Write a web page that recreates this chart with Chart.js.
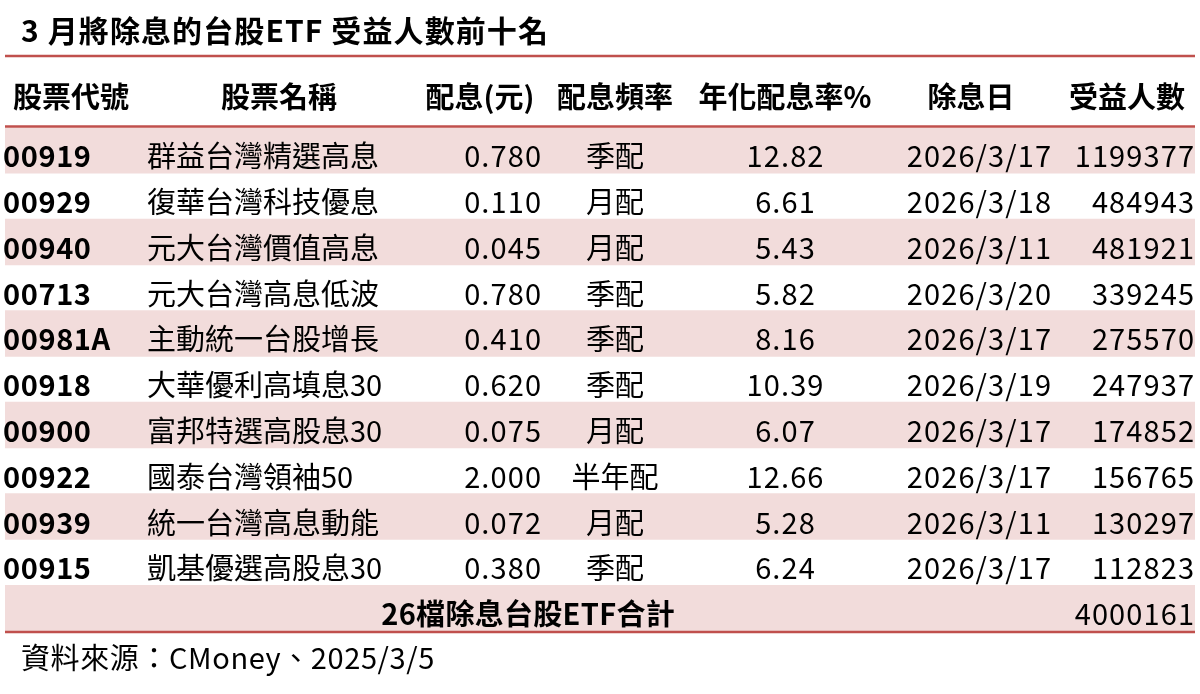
<!DOCTYPE html>
<html>
<head>
<meta charset="utf-8">
<script src="https://cdn.jsdelivr.net/npm/chart.js@4.4.1/dist/chart.umd.min.js"></script>
<style>
  html, body { margin: 0; padding: 0; background: #fff; }
  #wrap { width: 1200px; height: 694px; }
</style>
</head>
<body>
<div id="wrap"><canvas id="tbl"></canvas></div>
<script>
const title = '3 月將除息的台股ETF 受益人數前十名';
const source = '資料來源：CMoney、2025/3/5';
const headers = ['股票代號', '股票名稱', '配息(元)', '配息頻率', '年化配息率%', '除息日', '受益人數'];

const codes = ['00919', '00929', '00940', '00713', '00981A', '00918', '00900', '00922', '00939', '00915'];
const names = ['群益台灣精選高息', '復華台灣科技優息', '元大台灣價值高息', '元大台灣高息低波', '主動統一台股增長',
  '大華優利高填息30', '富邦特選高股息30', '國泰台灣領袖50', '統一台灣高息動能', '凱基優選高股息30'];
const dividends = [0.780, 0.110, 0.045, 0.780, 0.410, 0.620, 0.075, 2.000, 0.072, 0.380];
const freqs = ['季配', '月配', '月配', '季配', '季配', '季配', '月配', '半年配', '月配', '季配'];
const yields = [12.82, 6.61, 5.43, 5.82, 8.16, 10.39, 6.07, 12.66, 5.28, 6.24];
const exDates = ['2026/3/17', '2026/3/18', '2026/3/11', '2026/3/20', '2026/3/17', '2026/3/19', '2026/3/17', '2026/3/17', '2026/3/11', '2026/3/17'];
const holders = [1199377, 484943, 481921, 339245, 275570, 247937, 174852, 156765, 130297, 112823];
const totalLabel = '26檔除息台股ETF合計';
const totalHolders = 4000161;

const RED = '#c0504d';
const PINK = '#f2dcdb';
const FONT = "'Noto Sans CJK TC', 'Noto Sans', sans-serif";

// rows: 10 ETFs + total row; every other row is shaded
const rowLabels = codes.concat(['total']);
const stripe = rowLabels.map((r, i) => (i % 2 === 0 ? 1190 : null));

const tablePlugin = {
  id: 'tableText',
  afterDatasetsDraw(chart) {
    const ctx = chart.ctx;
    const x = chart.scales.x;
    const y = chart.scales.y;
    const area = chart.chartArea;
    const px = v => x.getPixelForValue(v);

    function text(str, xp, yp, align, weight, size, spacing) {
      ctx.font = (weight || 'normal') + ' ' + (size || 29) + 'px ' + FONT;
      ctx.letterSpacing = (spacing || 0) + 'px';
      ctx.textAlign = align;
      ctx.textBaseline = 'alphabetic';
      ctx.fillStyle = '#000';
      // letterSpacing adds a trailing gap; shift right-aligned text back
      const shift = align === 'right' ? (spacing || 0) : align === 'center' ? (spacing || 0) / 2 : 0;
      ctx.fillText(str, xp + shift, yp);
    }

    ctx.save();
    // red rules
    ctx.strokeStyle = RED;
    ctx.lineWidth = 2.5;
    [56, area.top - 1, area.bottom + 1].forEach(yy => {
      ctx.beginPath();
      ctx.moveTo(area.left, yy);
      ctx.lineTo(area.right, yy);
      ctx.stroke();
    });

    // title & source
    text(title, 21, 42, 'left', 'bold', 30, 1.1);
    text(source, 21, 669, 'left', 'normal', 29, 0.6);

    // header
    const headX = [71, 279, 480, 615, 785, 971, 1127];
    headers.forEach((h, i) => text(h, px(headX[i] - 5), 108, 'center', 'bold', 29, 0));

    // body rows
    const NUM = 1.1;
    codes.forEach((c, i) => {
      const yb = y.getPixelForValue(i) + 17;
      text(c, px(-2), yb, 'left', 'bold', 29, 0.6);
      text(names[i], px(142), yb, 'left', 'normal', 29, 0);
      text(dividends[i].toFixed(3), px(536), yb, 'right', 'normal', 29, NUM);
      text(freqs[i], px(610), yb, 'center', 'normal', 29, 0);
      text(yields[i].toFixed(2), px(780), yb, 'center', 'normal', 29, NUM);
      text(exDates[i], px(1046), yb, 'right', 'normal', 29, NUM);
      text(String(holders[i]), px(1189), yb, 'right', 'normal', 29, NUM);
    });

    const yt = y.getPixelForValue(codes.length) + 17;
    text(totalLabel, px(523), yt, 'center', 'bold', 29, 0.3);
    text(String(totalHolders), px(1189), yt, 'right', 'normal', 29, NUM);
    ctx.restore();
  }
};

new Chart(document.getElementById('tbl'), {
  type: 'bar',
  data: {
    labels: rowLabels,
    datasets: [{
      data: stripe,
      backgroundColor: PINK,
      borderWidth: 0,
      barPercentage: 1,
      categoryPercentage: 1
    }]
  },
  options: {
    indexAxis: 'y',
    responsive: true,
    maintainAspectRatio: false,
    animation: false,
    layout: { padding: { top: 127.5, bottom: 63, left: 5, right: 5 } },
    plugins: {
      legend: { display: false },
      tooltip: { enabled: false },
      title: { display: false }
    },
    scales: {
      x: { type: 'linear', min: 0, max: 1190, display: false },
      y: { type: 'category', display: false, offset: true }
    }
  },
  plugins: [tablePlugin]
});
</script>
</body>
</html>
